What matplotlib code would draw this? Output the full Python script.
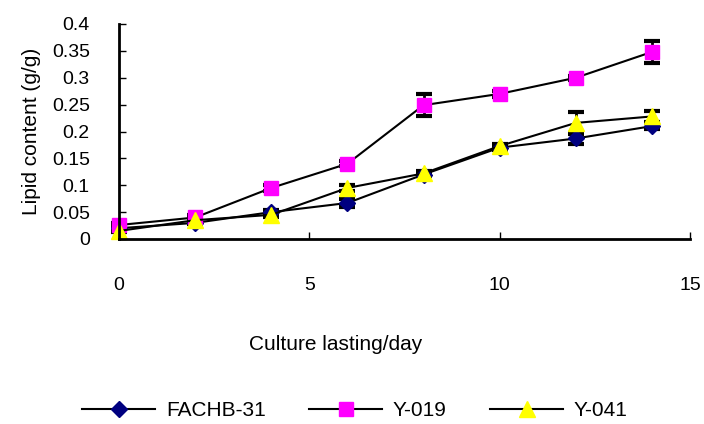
import matplotlib.pyplot as plt

plt.rcParams["font.family"] = ["Liberation Sans", "DejaVu Sans"]

days = [0, 2, 4, 6, 8, 10, 12, 14]
fachb31 = [0.020, 0.030, 0.050, 0.067, 0.120, 0.170, 0.187, 0.210]
fachb31_err = [0.002, 0.003, 0.004, 0.008, 0.003, 0.004, 0.010, 0.005]
y019 = [0.026, 0.040, 0.095, 0.140, 0.249, 0.270, 0.300, 0.348]
y019_err = [0.003, 0.004, 0.005, 0.005, 0.021, 0.005, 0.004, 0.021]
y041 = [0.015, 0.035, 0.045, 0.095, 0.122, 0.173, 0.216, 0.228]
y041_err = [0.002, 0.003, 0.004, 0.005, 0.004, 0.004, 0.020, 0.010]

series = [
    ("FACHB-31", fachb31, fachb31_err, "D", "#000080", 8),
    ("Y-019", y019, y019_err, "s", "#ff00ff", 10),
    ("Y-041", y041, y041_err, "^", "#ffff00", 11),
]

fig = plt.figure(figsize=(7.04, 4.24), dpi=100)
ax = fig.add_axes([119 / 704, 1 - 239 / 424, (690 - 119) / 704, (239 - 24) / 424])

for name, vals, err, mk, col, ms in series:
    ax.errorbar(days, vals, yerr=err, color="black", lw=1.5, marker=mk,
                markerfacecolor=col, markeredgecolor=col, markersize=ms,
                ecolor="black", elinewidth=2, capsize=6, capthick=3,
                label=name, clip_on=False)

ax.set_xlim(0, 15)
ax.set_ylim(0, 0.4)
ax.set_xticks([0, 5, 10, 15])
ax.set_yticks([0, 0.05, 0.1, 0.15, 0.2, 0.25, 0.3, 0.35, 0.4])
ax.set_yticklabels(["0", "0.05", "0.1", "0.15", "0.2", "0.25", "0.3", "0.35", "0.4"])
ax.tick_params(axis="both", direction="in", labelsize=14, length=5, width=1)
ax.tick_params(axis="x", pad=27)
ax.tick_params(axis="y", pad=21)
for s in ["top", "right"]:
    ax.spines[s].set_visible(False)
for s in ["left", "bottom"]:
    ax.spines[s].set_linewidth(2)

ax.set_ylabel("Lipid content (g/g)", fontsize=15, labelpad=8)
ax.set_xlabel("Culture lasting/day", fontsize=15)
# label sits left of the axes centre in the original
ax.xaxis.set_label_coords((336 - 119) / 571, -(345 - 239) / 215)
ax.xaxis.label.set_va("center")

handles, labels = ax.get_legend_handles_labels()
handles = [h[0] for h in handles]
fig.legend(handles, labels, loc="center", bbox_to_anchor=(355 / 704, 1 - 411 / 424),
           ncol=3, frameon=False, fontsize=15, handlelength=3.5,
           handletextpad=0.5, columnspacing=2.1)

fig.savefig("out.png", dpi=100)
